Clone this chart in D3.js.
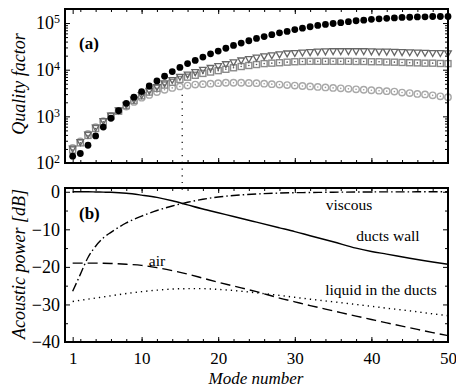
<!DOCTYPE html>
<html>
<head>
<meta charset="utf-8">
<script src="https://cdn.jsdelivr.net/npm/d3@7"></script>
<style>
body { margin: 0; background: #fff; }
svg, svg text { font-family: "Liberation Serif", "Times New Roman", Times, serif !important; }
</style>
</head>
<body>
<svg id="chart" width="456" height="388"></svg>
<script>
// ---- data ----
const modes = d3.range(1, 51);

// panel (a): quality factor per mode
const qBlack = [140,160,240,380,590,910,1320,1900,2570,3390,4470,5750,7240,9120,11200,13500,15800,18600,21900,25100,
  28800,33100,37200,41700,46800,51300,56200,61700,66100,72400,77600,83200,89100,93300,97700,102000,107000,112000,115000,120000,
  123000,126000,129000,132000,133000,135000,136000,138000,138000,138000];
const qTriangle = [200,275,398,562,776,1020,1320,1740,2240,2820,3470,4170,5010,5890,6920,7760,8710,9770,10700,11700,
  12900,14100,15500,16600,17800,19100,20000,20900,21900,22400,22900,23400,24000,24300,24500,24500,24500,24500,24500,24300,
  24000,24000,23700,23400,23200,22900,22600,22400,22400,22100];
const qSquare = [190,270,390,550,760,1000,1290,1700,2190,2750,3310,3980,4680,5370,6170,6920,7590,8320,8910,9550,
  10200,11000,11700,12300,12900,13500,13800,14100,14500,14800,15000,15100,15100,15100,15100,15100,15100,15000,15000,14800,
  14800,14600,14500,14300,14100,14000,13800,13800,13600,13500];
const qCircle = [210,290,420,590,790,1020,1290,1620,2040,2510,2880,3310,3720,4070,4370,4570,4790,4900,5010,5130,
  5250,5250,5250,5190,5130,5010,4900,4790,4680,4570,4470,4370,4270,4170,4070,3980,3890,3800,3720,3630,
  3550,3470,3390,3240,3160,3020,2950,2820,2690,2570];

// panel (b): acoustic power [dB]
const pModes   = [1,2,3,4,5,6,8,10,12,14,16,18,20,22,25,28,30,32,35,38,40,42,45,48,50];
const pWall    = [0,0,0,-0.05,-0.1,-0.15,-0.4,-0.9,-1.5,-2.4,-3.5,-4.6,-5.6,-6.6,-8.1,-9.6,-10.6,-11.7,-13.3,-15.0,-15.9,-16.6,-17.7,-18.7,-19.3];
const pViscous = [-26.5,-22,-17.5,-14.5,-12.3,-10.8,-8.3,-6.5,-5.0,-3.8,-2.8,-2.0,-1.4,-1.0,-0.6,-0.35,-0.25,-0.2,-0.12,-0.08,-0.05,-0.03,-0.02,-0.01,0];
const pAir     = [-19,-19,-19,-19,-19.05,-19.1,-19.3,-19.6,-20.2,-21.0,-21.9,-23.0,-24.1,-25.1,-26.6,-28.3,-29.3,-30.3,-31.7,-33.1,-34.0,-34.9,-36.2,-37.5,-38.3];
const pLiquid  = [-29.2,-28.9,-28.6,-28.3,-28.0,-27.7,-27.1,-26.6,-26.2,-25.9,-25.8,-25.8,-26.0,-26.3,-26.9,-27.6,-28.1,-28.6,-29.3,-30.0,-30.5,-31.0,-31.7,-32.5,-33.0];

const xTicks = [1, 10, 20, 30, 40, 50];
const xMinor = d3.range(2, 50, 2);
const qTicks = [1e2, 1e3, 1e4, 1e5];
const pTicks = [0, -10, -20, -30, -40];
const pMinor = [-5, -15, -25, -35];
const markerMode = 15.3;

// ---- layout ----
const svg = d3.select("#chart");
const L = 65, R = 448;
const topA = 9, botA = 163, topB = 188, botB = 342;

const x = d3.scaleLinear().domain([0, 50]).range([L, R]);
const yQ = d3.scaleLog().domain([100, 2e5]).range([botA, topA]);
const yP = d3.scaleLinear().domain([-40, 1]).range([botB, topB]);

function frameTicks(g, yScale, y0, y1, yMajor, yMinor) {
	// x ticks on bottom and top, pointing inward
	g.append("g").attr("transform", `translate(0,${y1})`)
		.call(d3.axisBottom(x).tickValues(xTicks).tickSizeInner(-5).tickSizeOuter(0).tickFormat(""));
	g.append("g").attr("transform", `translate(0,${y1})`)
		.call(d3.axisBottom(x).tickValues(xMinor).tickSizeInner(-3).tickSizeOuter(0).tickFormat(""));
	g.append("g").attr("transform", `translate(0,${y0})`)
		.call(d3.axisTop(x).tickValues(xTicks).tickSizeInner(-5).tickSizeOuter(0).tickFormat(""));
	g.append("g").attr("transform", `translate(0,${y0})`)
		.call(d3.axisTop(x).tickValues(xMinor).tickSizeInner(-3).tickSizeOuter(0).tickFormat(""));
	// y ticks left and right
	g.append("g").attr("transform", `translate(${R},0)`)
		.call(d3.axisRight(yScale).tickValues(yMajor).tickSizeInner(-5).tickSizeOuter(0).tickFormat(""));
	g.append("g").attr("transform", `translate(${R},0)`)
		.call(d3.axisRight(yScale).tickValues(yMinor).tickSizeInner(-3).tickSizeOuter(0).tickFormat(""));
	g.append("g").attr("transform", `translate(${L},0)`)
		.call(d3.axisLeft(yScale).tickValues(yMinor).tickSizeInner(-3).tickSizeOuter(0).tickFormat(""));
	g.selectAll(".domain").remove();
	g.selectAll(".tick line").attr("stroke", "#000").attr("stroke-width", 1);
}

// ---- panel (a) ----
const gA = svg.append("g");
const qMinor = [];
qTicks.forEach(t => { for (let k = 2; k <= 9; k++) if (t * k <= 2e5) qMinor.push(t * k); });
frameTicks(gA, yQ, topA, botA, qTicks, qMinor);

const axQ = gA.append("g").attr("transform", `translate(${L},0)`)
	.call(d3.axisLeft(yQ).tickValues(qTicks).tickSizeInner(-5).tickSizeOuter(0).tickPadding(5).tickFormat(""));
axQ.attr("font-family", null);
axQ.select(".domain").remove();
axQ.selectAll(".tick line").attr("stroke", "#000");
axQ.selectAll(".tick text")
	.attr("font-size", 18).attr("fill", "#000")
	.each(function(d) {
		const t = d3.select(this);
		t.append("tspan").text("10");
		t.append("tspan").attr("dy", "-0.5em").attr("font-size", 12).text(Math.round(Math.log10(d)));
	});

// vertical dotted guide
svg.append("line")
	.attr("x1", x(markerMode)).attr("x2", x(markerMode))
	.attr("y1", yQ(2900)).attr("y2", yP(0.3))
	.attr("stroke", "#000").attr("stroke-width", 1.2)
	.attr("stroke-dasharray", "1.2,5.5");

const ptsA = gA.append("g");
// light open circles with centre dot
ptsA.selectAll(".lc").data(modes).enter().append("circle")
	.attr("cx", d => x(d)).attr("cy", (d, i) => yQ(qCircle[i])).attr("r", 3.2)
	.attr("fill", "#fff").attr("stroke", "#a8a8a8").attr("stroke-width", 1.4);
ptsA.selectAll(".lcd").data(modes).enter().append("circle")
	.attr("cx", d => x(d)).attr("cy", (d, i) => yQ(qCircle[i])).attr("r", 0.8).attr("fill", "#999");
// gray squares with centre dot
ptsA.selectAll(".sq").data(modes).enter().append("rect")
	.attr("x", d => x(d) - 3).attr("y", (d, i) => yQ(qSquare[i]) - 3)
	.attr("width", 6).attr("height", 6)
	.attr("fill", "#fff").attr("stroke", "#8a8a8a").attr("stroke-width", 1.4);
ptsA.selectAll(".sqd").data(modes).enter().append("circle")
	.attr("cx", d => x(d)).attr("cy", (d, i) => yQ(qSquare[i])).attr("r", 0.8).attr("fill", "#555");
// dark gray down triangles
ptsA.selectAll(".tr").data(modes).enter().append("path")
	.attr("transform", (d, i) => `translate(${x(d)},${yQ(qTriangle[i])})`)
	.attr("d", "M-3.3,-2.8 L3.3,-2.8 L0,3.1 Z")
	.attr("fill", "none").attr("stroke", "#666").attr("stroke-width", 1.3);
// black filled circles
ptsA.selectAll(".bc").data(modes).enter().append("circle")
	.attr("cx", d => x(d)).attr("cy", (d, i) => yQ(qBlack[i])).attr("r", 3.4)
	.attr("fill", "#000");

gA.append("rect").attr("x", L).attr("y", topA).attr("width", R - L).attr("height", botA - topA)
	.attr("fill", "none").attr("stroke", "#000").attr("stroke-width", 2);

gA.append("text").attr("x", 79).attr("y", 49).attr("font-size", 17).attr("font-weight", "bold").text("(a)");

svg.append("text")
	.attr("transform", `translate(25,84) rotate(-90)`)
	.attr("text-anchor", "middle").attr("font-size", 18).attr("font-style", "italic")
	.text("Quality factor");

// ---- panel (b) ----
const gB = svg.append("g");
frameTicks(gB, yP, topB, botB, pTicks, pMinor);

const axP = gB.append("g").attr("transform", `translate(${L},0)`)
	.call(d3.axisLeft(yP).tickValues(pTicks).tickSizeInner(-5).tickSizeOuter(0).tickPadding(5)
		.tickFormat(d => d < 0 ? "\u2212" + Math.abs(d) : d));
axP.attr("font-family", null);
axP.select(".domain").remove();
axP.selectAll(".tick line").attr("stroke", "#000");
axP.selectAll(".tick text").attr("font-size", 18).attr("fill", "#000");

const axX = gB.append("g").attr("transform", `translate(0,${botB})`)
	.call(d3.axisBottom(x).tickValues(xTicks).tickSize(0).tickPadding(10));
axX.attr("font-family", null);
axX.select(".domain").remove();
axX.selectAll(".tick text").attr("font-size", 17).attr("fill", "#000");

const line = d3.line().x((d, i) => x(pModes[i])).y(d => yP(d)).curve(d3.curveMonotoneX);
const curves = [
	{ v: pWall, dash: null },
	{ v: pViscous, dash: "9,3,1.5,3" },
	{ v: pAir, dash: "10,5" },
	{ v: pLiquid, dash: "1.3,4" }
];
gB.selectAll(".curve").data(curves).enter().append("path")
	.attr("d", d => line(d.v))
	.attr("fill", "none").attr("stroke", "#000").attr("stroke-width", 1.4)
	.attr("stroke-dasharray", d => d.dash);

gB.append("rect").attr("x", L).attr("y", topB).attr("width", R - L).attr("height", botB - topB)
	.attr("fill", "none").attr("stroke", "#000").attr("stroke-width", 2);

gB.append("text").attr("x", 79).attr("y", 219).attr("font-size", 17).attr("font-weight", "bold").text("(b)");

const labelsB = [
	{ t: "viscous", x: 349, y: 210 },
	{ t: "ducts wall", x: 388, y: 241 },
	{ t: "air", x: 157, y: 266 },
	{ t: "liquid in the ducts", x: 381, y: 295 }
];
gB.selectAll(".lbl").data(labelsB).enter().append("text")
	.attr("x", d => d.x).attr("y", d => d.y).attr("text-anchor", "middle")
	.attr("font-size", 15.5).text(d => d.t);

svg.append("text")
	.attr("transform", `translate(25,264) rotate(-90)`)
	.attr("text-anchor", "middle").attr("font-size", 18).attr("font-style", "italic")
	.text("Acoustic power [dB]");

svg.append("text").attr("x", 256).attr("y", 384).attr("text-anchor", "middle")
	.attr("font-size", 17).attr("font-style", "italic").text("Mode number");
</script>
</body>
</html>
